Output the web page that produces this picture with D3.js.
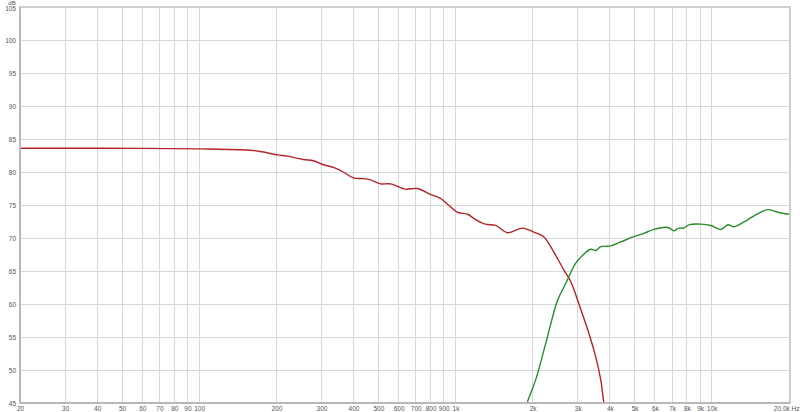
<!DOCTYPE html>
<html><head><meta charset="utf-8">
<script src="https://cdn.jsdelivr.net/npm/d3@7"></script>
<style>html,body{margin:0;padding:0;background:#fff;}svg{display:block;}</style>
</head><body><svg id="c" width="800" height="412"></svg>
<script>
// Frequency (Hz) / level (dB)
const wooferFreq = [20,41,101,158,173,202,221,255,279,305,334,365,400,437,466,510,558,638,711,799,874,939,1019,1114,1197,1310,1434,1597,1828,2018,2208,2416,2642,2815,3024,3280,3524,3687,3788,3900];
const wooferDb   = [83.6,83.6,83.5,83.3,83.1,82.6,82.4,81.9,81.7,81.1,80.7,80.0,79.1,79.0,78.8,78.2,78.2,77.4,77.5,76.6,76.0,75.0,73.9,73.6,72.8,72.1,71.9,70.8,71.5,70.9,70.2,67.9,65.2,63.4,60.1,56.1,52.0,48.5,45.2,43.0];
const tweeterFreq = [1860,1910,2054,2248,2504,2692,2944,3135,3370,3524,3687,4034,4414,4962,5429,5940,6736,7110,7436,7777,8136,9066,9917,10852,11556,12198,13830,15136,16558,18118,20000];
const tweeterDb   = [43.5,45.2,48.5,54.0,60.6,63.1,66.2,67.4,68.3,68.1,68.7,68.8,69.4,70.2,70.7,71.3,71.6,71.1,71.5,71.5,72.0,72.1,71.9,71.3,72.0,71.7,72.8,73.7,74.3,73.9,73.6];
const xTicks = [20,30,40,50,60,70,80,90,100,200,300,400,500,600,700,800,900,1000,2000,3000,4000,5000,6000,7000,8000,9000,10000,20000];
const xTickLabels = ["20","30","40","50","60","70","80","90","100","200","300","400","500","600","700","800","900","1k","2k","3k","4k","5k","6k","7k","8k","9k","10k","20.0k Hz"];
const yTicks = [45,50,55,60,65,70,75,80,85,90,95,100,105];

const svg = d3.select("#c");
const L = 20, R = 789, T = 7, B = 403;
const x = d3.scaleLog().domain([20,20000]).range([L,R]);
const y = d3.scaleLinear().domain([45,105]).range([B,T]);
const FONT = "'Liberation Sans',Arial,sans-serif";

// grid
svg.append("g").selectAll("line").data(xTicks.slice(1,-1)).join("line")
  .attr("x1",d=>x(d)).attr("x2",d=>x(d)).attr("y1",T).attr("y2",B)
  .attr("stroke","#d8d8d8").attr("stroke-width",1).attr("shape-rendering","crispEdges");
svg.append("g").selectAll("line").data(yTicks.slice(1,-1)).join("line")
  .attr("x1",L).attr("x2",R).attr("y1",d=>y(d)).attr("y2",d=>y(d))
  .attr("stroke","#d8d8d8").attr("stroke-width",1).attr("shape-rendering","crispEdges");

// border
svg.append("rect").attr("x",L).attr("y",T).attr("width",R-L+1).attr("height",B-T)
  .attr("fill","none").attr("stroke","#cfcfcf").attr("stroke-width",2);
svg.append("line").attr("x1",L).attr("x2",L).attr("y1",T).attr("y2",B).attr("stroke","#b8b8b8").attr("stroke-width",2);
svg.append("line").attr("x1",L).attr("x2",R+1).attr("y1",B).attr("y2",B).attr("stroke","#b8b8b8").attr("stroke-width",2);

// axes (labels via d3 axes)
const fmt = d => xTickLabels[xTicks.indexOf(d)];
const xa = svg.append("g").attr("transform",`translate(0,${B+1})`)
  .call(d3.axisBottom(x).tickValues(xTicks).tickFormat(fmt).tickSize(0).tickPadding(2));
const ya = svg.append("g").attr("transform",`translate(${L-2},0)`)
  .call(d3.axisLeft(y).tickValues(yTicks).tickFormat(d3.format("d")).tickSize(0).tickPadding(2));
[xa,ya].forEach(a=>{
  a.select(".domain").remove();
  a.selectAll("text").attr("fill","#555").style("font-family",FONT).style("font-size","6.5px");
});
// last x label ends at the right edge like the reference
xa.selectAll(".tick").filter(d=>d===20000).select("text").attr("text-anchor","end").attr("x",10);
// 105 label slightly lower so the dB unit fits above
ya.selectAll(".tick").filter(d=>d===105).select("text").attr("dy","0.55em");
svg.append("text").attr("x",12).attr("y",4.5).attr("text-anchor","middle")
  .attr("fill","#555").style("font-family",FONT).style("font-size","6px").text("dB");

// curves
svg.append("clipPath").attr("id","clip").append("rect").attr("x",L+1).attr("y",T).attr("width",R-L).attr("height",B-T-1);
const line = d3.line().x(d=>x(d[0])).y(d=>y(d[1])).curve(d3.curveCatmullRom.alpha(0.5));
const g = svg.append("g").attr("clip-path","url(#clip)");
g.append("path").datum(d3.zip(wooferFreq,wooferDb)).attr("d",line)
  .attr("fill","none").attr("stroke","#b3232a").attr("stroke-width",1.4);
g.append("path").datum(d3.zip(tweeterFreq,tweeterDb)).attr("d",line)
  .attr("fill","none").attr("stroke","#2a8a2a").attr("stroke-width",1.4);
</script></body></html>
